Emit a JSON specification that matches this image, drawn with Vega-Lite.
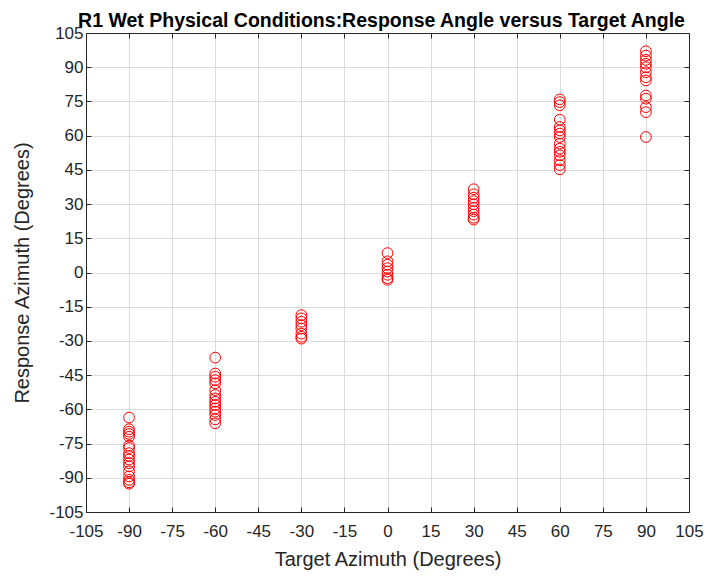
{
  "$schema": "https://vega.github.io/schema/vega-lite/v6.json",
  "width": 603,
  "height": 479,
  "autosize": {"type": "none"},
  "padding": {"left": 86, "top": 33, "right": 22, "bottom": 64},
  "background": "white",
  "title": {
    "text": "R1 Wet Physical Conditions:Response Angle versus Target Angle",
    "font": "Liberation Sans",
    "fontSize": 19.5,
    "fontWeight": "bold",
    "color": "#000000",
    "anchor": "middle",
    "dx": -6,
    "offset": -7
  },
  "config": {
    "view": {"stroke": "#262626", "strokeWidth": 1},
    "axis": {
      "labelFont": "Liberation Sans",
      "titleFont": "Liberation Sans",
      "labelFontSize": 17,
      "titleFontSize": 20,
      "titleFontWeight": "normal",
      "labelColor": "#262626",
      "titleColor": "#262626",
      "domainColor": "#262626",
      "tickColor": "#262626",
      "gridColor": "#dcdcdc",
      "gridWidth": 1,
      "tickSize": -5,
      "labelOverlap": false,
      "labelFlush": false,
      "labelExpr": "'' + datum.value"
    }
  },
  "data": {
    "values": [
      {"target": -90, "response": -63.6},
      {"target": -90, "response": -68.7},
      {"target": -90, "response": -69.8},
      {"target": -90, "response": -70.8},
      {"target": -90, "response": -72.0},
      {"target": -90, "response": -75.9},
      {"target": -90, "response": -77.0},
      {"target": -90, "response": -79.2},
      {"target": -90, "response": -80.4},
      {"target": -90, "response": -82.0},
      {"target": -90, "response": -83.6},
      {"target": -90, "response": -85.0},
      {"target": -90, "response": -87.2},
      {"target": -90, "response": -89.4},
      {"target": -90, "response": -90.9},
      {"target": -90, "response": -92.0},
      {"target": -90, "response": -92.6},
      {"target": -60, "response": -37.3},
      {"target": -60, "response": -44.3},
      {"target": -60, "response": -45.7},
      {"target": -60, "response": -47.2},
      {"target": -60, "response": -48.6},
      {"target": -60, "response": -51.6},
      {"target": -60, "response": -53.7},
      {"target": -60, "response": -55.2},
      {"target": -60, "response": -56.7},
      {"target": -60, "response": -58.1},
      {"target": -60, "response": -59.6},
      {"target": -60, "response": -61.0},
      {"target": -60, "response": -62.5},
      {"target": -60, "response": -64.4},
      {"target": -60, "response": -66.1},
      {"target": -30, "response": -18.7},
      {"target": -30, "response": -20.1},
      {"target": -30, "response": -21.6},
      {"target": -30, "response": -23.1},
      {"target": -30, "response": -24.6},
      {"target": -30, "response": -26.8},
      {"target": -30, "response": -28.2},
      {"target": -30, "response": -29.0},
      {"target": 0, "response": 8.5},
      {"target": 0, "response": 4.9},
      {"target": 0, "response": 3.4},
      {"target": 0, "response": 1.9},
      {"target": 0, "response": 0.4},
      {"target": 0, "response": -1.0},
      {"target": 0, "response": -2.5},
      {"target": 0, "response": -3.2},
      {"target": 30, "response": 36.5},
      {"target": 30, "response": 34.3},
      {"target": 30, "response": 32.8},
      {"target": 30, "response": 31.3},
      {"target": 30, "response": 29.9},
      {"target": 30, "response": 28.4},
      {"target": 30, "response": 26.9},
      {"target": 30, "response": 25.4},
      {"target": 30, "response": 24.0},
      {"target": 30, "response": 23.2},
      {"target": 60, "response": 75.9},
      {"target": 60, "response": 74.7},
      {"target": 60, "response": 73.3},
      {"target": 60, "response": 67.0},
      {"target": 60, "response": 63.8},
      {"target": 60, "response": 62.3},
      {"target": 60, "response": 60.9},
      {"target": 60, "response": 59.4},
      {"target": 60, "response": 56.5},
      {"target": 60, "response": 54.3},
      {"target": 60, "response": 52.9},
      {"target": 60, "response": 51.4},
      {"target": 60, "response": 49.2},
      {"target": 60, "response": 47.1},
      {"target": 60, "response": 45.2},
      {"target": 90, "response": 97.0},
      {"target": 90, "response": 95.1},
      {"target": 90, "response": 93.2},
      {"target": 90, "response": 91.5},
      {"target": 90, "response": 90.0},
      {"target": 90, "response": 87.8},
      {"target": 90, "response": 85.6},
      {"target": 90, "response": 84.2},
      {"target": 90, "response": 77.6},
      {"target": 90, "response": 76.2},
      {"target": 90, "response": 72.5},
      {"target": 90, "response": 70.3},
      {"target": 90, "response": 59.4}
    ]
  },
  "layer": [
    {
      "mark": {"type": "point", "shape": "circle", "filled": false, "stroke": "#ff0000", "strokeWidth": 1, "size": 115, "opacity": 1},
      "encoding": {
        "x": {
          "field": "target",
          "type": "quantitative",
          "scale": {"domain": [-105, 105], "nice": false, "zero": false},
          "axis": {"values": [-105, -90, -75, -60, -45, -30, -15, 0, 15, 30, 45, 60, 75, 90, 105], "title": "Target Azimuth (Degrees)", "labelPadding": 16, "titlePadding": 10}
        },
        "y": {
          "field": "response",
          "type": "quantitative",
          "scale": {"domain": [-105, 105], "nice": false, "zero": false},
          "axis": {"values": [-105, -90, -75, -60, -45, -30, -15, 0, 15, 30, 45, 60, 75, 90, 105], "title": "Response Azimuth (Degrees)", "labelPadding": 8, "titlePadding": 16}
        }
      }
    },
    {
      "mark": {"type": "point", "shape": "circle", "opacity": 0, "size": 1},
      "encoding": {
        "x": {
          "field": "target",
          "type": "quantitative",
          "scale": {"domain": [-105, 105], "nice": false, "zero": false},
          "axis": {"orient": "top", "values": [-105, -90, -75, -60, -45, -30, -15, 0, 15, 30, 45, 60, 75, 90, 105], "labels": false, "title": null, "grid": false}
        },
        "y": {
          "field": "response",
          "type": "quantitative",
          "scale": {"domain": [-105, 105], "nice": false, "zero": false},
          "axis": {"orient": "right", "values": [-105, -90, -75, -60, -45, -30, -15, 0, 15, 30, 45, 60, 75, 90, 105], "labels": false, "title": null, "grid": false}
        }
      }
    }
  ],
  "resolve": {"axis": {"x": "independent", "y": "independent"}}
}
